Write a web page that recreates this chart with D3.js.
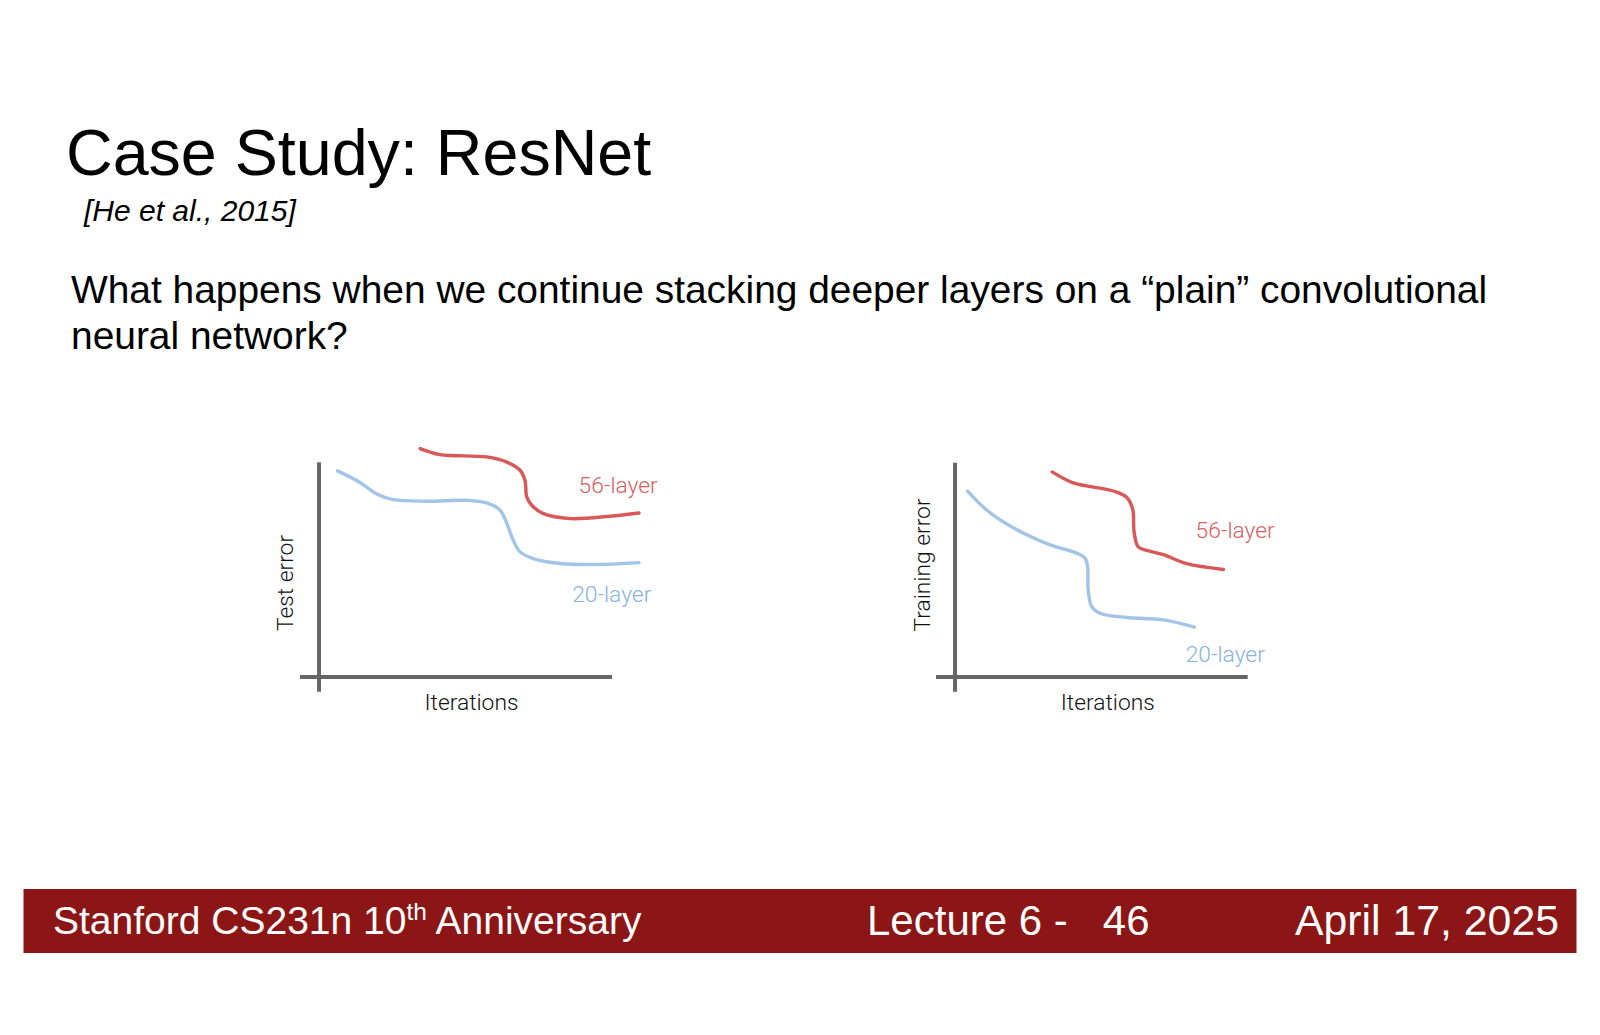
<!DOCTYPE html>
<html>
<head>
<meta charset="utf-8">
<script src="https://cdn.jsdelivr.net/npm/d3@7"></script>
<style>
  html, body { margin: 0; padding: 0; background: #fff; }
  svg { display: block; }
</style>
</head>
<body>
<script>
// ---------- data ----------
const titleText = "Case Study: ResNet";
const citationText = "[He et al., 2015]";
const bodyLines = [
  "What happens when we continue stacking deeper layers on a \u201Cplain\u201D convolutional",
  "neural network?"
];
const footerLeft = ["Stanford CS231n 10", "th", " Anniversary"];
const footerMid = "Lecture 6 -   46";
const footerRight = "April 17, 2025";

const seriesNames = ["56-layer", "20-layer"];
const chartYLabels = ["Test error", "Training error"];
const chartXLabel = "Iterations";

// Test error chart (x: iterations, y: error, arbitrary units)
const test20x = [6.3, 14.0, 19.7, 25.4, 36.8, 50.4, 57.2, 61.8, 64.1, 66.3, 68.6, 73.1, 82.3, 93.6, 109.2];
const test20y = [96.0, 90.6, 85.2, 82.6, 81.9, 82.3, 81.1, 77.7, 71.5, 63.7, 58.3, 55.2, 52.9, 52.4, 53.3];
const test56x = [34.5, 41.3, 57.2, 64.1, 68.6, 70.3, 70.9, 72.6, 76.6, 85.7, 99.3, 109.2];
const test56y = [106.4, 103.6, 102.5, 100.1, 96.3, 91.6, 83.9, 80.0, 76.1, 73.8, 74.9, 76.4];

// Training error chart
const train20x = [4.3, 9.7, 15.4, 24.5, 32.5, 41.6, 44.4, 45.3, 45.5, 46.7, 49.5, 58.7, 71.2, 81.8];
const train20y = [86.7, 79.2, 73.3, 66.4, 61.7, 57.8, 55.5, 51.5, 40.7, 32.9, 29.8, 27.8, 26.7, 23.3];
const train56x = [33.2, 40.4, 54.1, 58.7, 60.7, 61.2, 62.6, 65.5, 71.2, 79.2, 91.7];
const train56y = [95.7, 90.6, 86.8, 83.8, 78.4, 67.5, 60.7, 59.1, 57.1, 52.9, 50.2];

// ---------- drawing ----------
const W = 1600, H = 1035;
const svg = d3.select("body").append("svg").attr("width", W).attr("height", H);
svg.append("rect").attr("width", W).attr("height", H).attr("fill", "#fff");

const sans = "'Liberation Sans', Arial, Helvetica, sans-serif";
const light = "Roboto, 'Helvetica Neue', 'Liberation Sans', sans-serif";
const RED = "#d95858", BLUE = "#a2c4e7";
const RED_T = "#d9605e", BLUE_T = "#86b2de";

svg.append("text").attr("x", 66).attr("y", 175)
  .attr("font-family", sans).attr("font-size", 64.6).attr("fill", "#000").text(titleText);
svg.append("text").attr("x", 84).attr("y", 221)
  .attr("font-family", sans).attr("font-size", 30).attr("font-style", "italic").attr("fill", "#000").text(citationText);
svg.selectAll("text.body").data(bodyLines).enter().append("text")
  .attr("class", "body").attr("x", 71).attr("y", (d, i) => 303 + i * 46)
  .attr("font-family", sans).attr("font-size", 38.9).attr("fill", "#000").text(d => d);

function drawChart(cfg) {
  const x = d3.scaleLinear().domain([-6.5, 100]).range(cfg.xr);
  const y = d3.scaleLinear().domain([-6.8, 100]).range(cfg.yr);
  const g = svg.append("g");
  // axes
  g.append("line").attr("x1", x(0)).attr("x2", x(0)).attr("y1", y(100)).attr("y2", y(-6.8))
    .attr("stroke", "#666").attr("stroke-width", 4);
  g.append("line").attr("x1", x(-6.5)).attr("x2", x(100)).attr("y1", y(0)).attr("y2", y(0))
    .attr("stroke", "#666").attr("stroke-width", 4);
  const line = d3.line().x(d => x(d[0])).y(d => y(d[1])).curve(d3.curveCatmullRom.alpha(0.5));
  cfg.series.forEach(s => {
    g.append("path").datum(d3.zip(s.xs, s.ys)).attr("d", line)
      .attr("fill", "none").attr("stroke", s.color).attr("stroke-width", 3.4)
      .attr("stroke-linecap", "round").attr("stroke-linejoin", "round");
    g.append("text").attr("x", x(s.lx)).attr("y", y(s.ly))
      .attr("font-family", light).attr("font-weight", 300).attr("font-size", 22.8)
      .attr("fill", s.tcolor).text(s.name);
  });
  g.append("text").attr("x", cfg.xlx).attr("y", 710).attr("text-anchor", "middle")
    .attr("font-family", light).attr("font-weight", 300).attr("font-size", 22.8).attr("fill", "#111")
    .text(chartXLabel);
  g.append("text").attr("transform", `translate(${cfg.ylx},${cfg.yly}) rotate(-90)`)
    .attr("text-anchor", "middle")
    .attr("font-family", light).attr("font-weight", 300).attr("font-size", 22.8).attr("fill", "#111")
    .text(cfg.ylabel);
}

drawChart({
  xr: [300, 612], yr: [691.7, 462.3],
  xlx: 471.5, ylx: 293, yly: 583, ylabel: chartYLabels[0],
  series: [
    { name: seriesNames[0], xs: test56x, ys: test56y, color: RED, tcolor: RED_T, lx: 88.6, ly: 85.6 },
    { name: seriesNames[1], xs: test20x, ys: test20y, color: BLUE, tcolor: BLUE_T, lx: 86.4, ly: 35.0 }
  ]
});
drawChart({
  xr: [936, 1247.7], yr: [691.7, 462.7],
  xlx: 1107.8, ylx: 930, yly: 565, ylabel: chartYLabels[1],
  series: [
    { name: seriesNames[0], xs: train56x, ys: train56y, color: RED, tcolor: RED_T, lx: 82.2, ly: 65.1 },
    { name: seriesNames[1], xs: train20x, ys: train20y, color: BLUE, tcolor: BLUE_T, lx: 78.8, ly: 7.0 }
  ]
});

// footer
svg.append("rect").attr("x", 23.5).attr("y", 889).attr("width", 1553).attr("height", 64).attr("fill", "#8c1616");
const fl = svg.append("text").attr("x", 53).attr("y", 934)
  .attr("font-family", sans).attr("font-size", 39).attr("fill", "#fff");
fl.append("tspan").text(footerLeft[0]);
fl.append("tspan").attr("font-size", 24.5).attr("dy", -14).text(footerLeft[1]);
fl.append("tspan").attr("dy", 14).text(footerLeft[2]);
svg.append("text").attr("x", 867).attr("y", 935).attr("xml:space", "preserve")
  .style("white-space", "pre")
  .attr("font-family", sans).attr("font-size", 42).attr("fill", "#fff").text(footerMid);
svg.append("text").attr("x", 1559).attr("y", 935).attr("text-anchor", "end")
  .attr("font-family", sans).attr("font-size", 42.8).attr("fill", "#fff").text(footerRight);
</script>
</body>
</html>
